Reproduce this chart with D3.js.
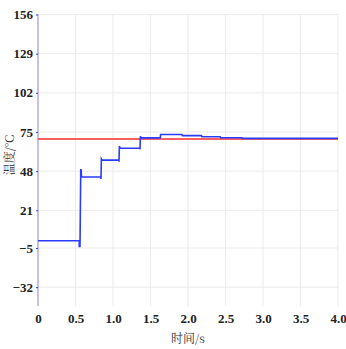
<!DOCTYPE html>
<html><head><meta charset="utf-8">
<script src="https://cdn.jsdelivr.net/npm/d3@7/dist/d3.min.js"></script>
<style>body{margin:0;background:#fff}svg{display:block}
.num{font-family:"Liberation Serif","DejaVu Serif",serif;font-weight:bold;font-size:13px;fill:#222}
.ttl{font-family:"Noto Serif CJK SC","Noto Sans CJK SC",serif;font-size:12px;fill:#333}
</style>
</head><body>
<svg id="c" width="346" height="349"></svg>
<script>
const yTicks = [156, 129, 102, 75, 48, 21, -5, -32];
const xTicks = [0, 0.5, 1.0, 1.5, 2.0, 2.5, 3.0, 3.5, 4.0];
const xTickLabels = ["0", "0.5", "1.0", "1.5", "2.0", "2.5", "3.0", "3.5", "4.0"];
const timeS = [0, 0.55, 0.55, 0.56, 0.57, 0.575, 0.58, 0.84, 0.84, 0.845, 0.855, 1.08, 1.08, 1.085, 1.095, 1.36, 1.36, 1.365, 1.375, 1.63, 1.635, 1.92, 1.925, 2.18, 2.185, 2.43, 2.435, 2.72, 2.725, 4.0];
const tempC = [0, 0, -4, -4, 49, 49, 44, 44, 42.5, 56.5, 55.6, 55.6, 54.5, 65.3, 63.8, 63.8, 63, 72, 70.9, 70.9, 73.3, 73.3, 72.5, 72.5, 71.7, 71.7, 71, 71, 70.6, 70.6];
const setpointTime = [0, 4.0];
const setpointTemp = [70.2, 70.2];

const svg = d3.select("#c");
const x = d3.scaleLinear().domain([0, 4]).range([38, 338]);
const y = d3.scaleLinear().domain([-45, 156]).range([306, 14.5]);

// grid
svg.append("g").selectAll("line").data(yTicks).join("line")
  .attr("x1", x(0)).attr("x2", x(4)).attr("y1", d => y(d)).attr("y2", d => y(d))
  .attr("stroke", "#ebebeb").attr("stroke-width", 1);
svg.append("g").selectAll("line").data(xTicks.slice(1)).join("line")
  .attr("x1", d => x(d)).attr("x2", d => x(d)).attr("y1", y(156)).attr("y2", y(-45))
  .attr("stroke", "#ebebeb").attr("stroke-width", 1);

// y axis
const yAxis = d3.axisLeft(y).tickValues(yTicks).tickSize(2).tickPadding(3).tickFormat(d => d < 0 ? "\u2212" + Math.abs(d) : d);
const gy = svg.append("g").attr("transform", `translate(${x(0)},0)`).call(yAxis);
gy.attr("font-family", null).attr("font-size", null);
gy.select(".domain").attr("stroke", "#9a9ae0").attr("stroke-width", 1.2).attr("d", `M0,${y(156)}V${y(-45)}`);
gy.selectAll(".tick line").attr("stroke", "#3040ff");
gy.selectAll("text").attr("class", "num").attr("fill", null);

// x axis labels
const xAxis = d3.axisBottom(x).tickValues(xTicks).tickSize(0).tickPadding(8).tickFormat((d, i) => xTickLabels[i]);
const gx = svg.append("g").attr("transform", `translate(0,${y(-45)})`).call(xAxis);
gx.attr("font-family", null).attr("font-size", null);
gx.select(".domain").remove();
gx.selectAll("text").attr("class", "num").attr("fill", null);

// lines
const line = d3.line().x(d => x(d[0])).y(d => y(d[1]));
svg.append("path").datum(setpointTime.map((t, i) => [t, setpointTemp[i]]))
  .attr("d", line).attr("fill", "none").attr("stroke", "#ff2a2a").attr("stroke-width", 1.6);
svg.append("path").datum(timeS.map((t, i) => [t, tempC[i]]))
  .attr("d", line).attr("fill", "none").attr("stroke", "#2a3cff").attr("stroke-width", 1.6);

// titles
svg.append("text").attr("class", "ttl").attr("x", 188).attr("y", 343).attr("text-anchor", "middle").text("时间/s");
svg.append("text").attr("class", "ttl").attr("transform", "translate(14,155) rotate(-90)").attr("text-anchor", "middle").text("温度/°C");
</script>
</body></html>
